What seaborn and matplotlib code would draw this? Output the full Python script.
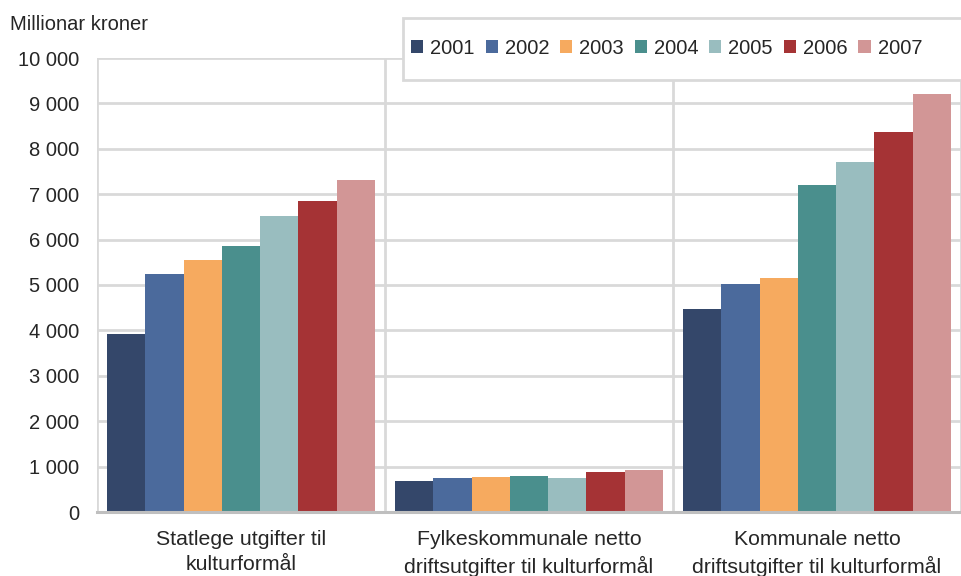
import numpy as np
import pandas as pd
import matplotlib
matplotlib.use("Agg")
import matplotlib.pyplot as plt
import matplotlib.ticker as mticker
from matplotlib.patches import Patch, Rectangle
import seaborn as sns

# =====================================================
# DATA (millionar kroner)
# =====================================================

categories = [
    "Statlege utgifter til\nkulturformål",
    "Fylkeskommunale netto\ndriftsutgifter til kulturformål",
    "Kommunale netto\ndriftsutgifter til kulturformål",
]

years = ["2001", "2002", "2003", "2004", "2005", "2006", "2007"]

statlege = [3920, 5240, 5550, 5860, 6530, 6840, 7310]
fylke = [690, 740, 780, 790, 745, 880, 925]
kommunale = [4470, 5015, 5150, 7210, 7710, 8370, 9200]

colors = ["#34476a", "#4b6a9c", "#f6aa5f", "#4a8f8d",
          "#99bdbf", "#a53335", "#d29696"]

df = pd.DataFrame({
    "kategori": np.repeat(categories, len(years)),
    "år": years * len(categories),
    "verdi": statlege + fylke + kommunale,
})

# =====================================================
# PLOT
# =====================================================

sns.set_style("white")
plt.rcParams["font.family"] = ["Liberation Sans", "DejaVu Sans"]

W, H = 961, 576
fig = plt.figure(figsize=(W / 100, H / 100), dpi=100)
ax = fig.add_axes([97 / W, (H - 512) / H, 864 / W, (512 - 58) / H])

sns.barplot(
    data=df,
    x="kategori",
    y="verdi",
    hue="år",
    palette=colors,
    saturation=1,
    width=0.93,
    gap=0,
    linewidth=0,
    legend=False,
    ax=ax,
)

ax.set_xlim(-0.5, 2.5 - 9 / 291)
ax.set_ylim(0, 10000)
ax.set_yticks(range(0, 10001, 1000))
ax.yaxis.set_major_formatter(
    mticker.FuncFormatter(lambda v, p: f"{int(v):,}".replace(",", " "))
)

ax.set_xticks([-0.5, 0.5, 1.5, 2.5], minor=True)
ax.grid(True, axis="y", which="major", color="#d9d9d9", lw=2)
ax.grid(True, axis="x", which="minor", color="#d9d9d9", lw=2)
ax.grid(False, axis="x", which="major")
ax.set_axisbelow(True)

for s in ["top", "right", "left"]:
    ax.spines[s].set_visible(False)
ax.spines["bottom"].set_color("#bfbfbf")
ax.spines["bottom"].set_linewidth(2.2)

ax.tick_params(axis="both", which="both", length=0)
ax.tick_params(axis="y", pad=13, labelsize=14.5)
ax.tick_params(axis="x", pad=13, labelsize=15.3)
for lab in ax.get_xticklabels():
    lab.set_linespacing(1.4)

ax.set_xlabel("")
ax.set_ylabel("")

fig.text(10 / W, 1 - 30 / H, "Millionar kroner", fontsize=14.5)

# legend box (runs past the right edge of the picture)
fig.patches.append(Rectangle(
    (403 / W, 1 - 80 / H), 580 / W, 62 / H,
    transform=fig.transFigure, facecolor="white",
    edgecolor="#d9d9d9", linewidth=2, zorder=3,
))

handles = [Patch(facecolor=c, edgecolor="none") for c in colors]
leg = fig.legend(
    handles,
    years,
    loc="center left",
    bbox_to_anchor=(411 / W, 1 - 48 / H),
    ncol=7,
    fontsize=14.5,
    frameon=False,
    handlelength=0.6,
    handleheight=0.6,
    handletextpad=0.35,
    columnspacing=0.54,
    borderpad=0,
    borderaxespad=0,
)
leg.set_zorder(4)

plt.savefig("out.png", dpi=100)
plt.close()
